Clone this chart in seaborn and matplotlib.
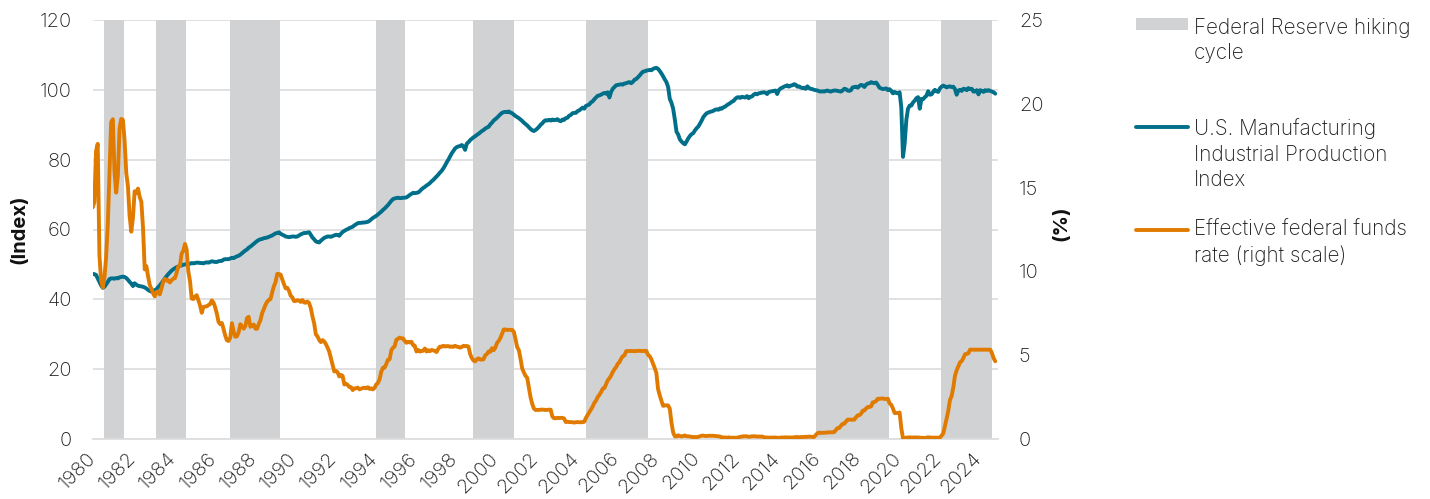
import numpy as np
import pandas as pd
import matplotlib
matplotlib.use("Agg")
import matplotlib.pyplot as plt
from matplotlib.lines import Line2D
from matplotlib.patches import Rectangle
import seaborn as sns

# ---- data (monthly, Jan 1980 - Nov 2024) ----
start_year = 1980

# U.S. manufacturing industrial production index (left scale)
ip_index = [
    47.3, 47.2, 47.0, 46.0, 45.0, 44.0, 43.3, 43.6, 44.3, 45.0, 45.8, 46.0,  # 1980
    46.0, 45.9, 46.1, 46.0, 46.3, 46.4, 46.5, 46.4, 46.1, 45.6, 45.0, 44.5,  # 1981
    43.8, 44.6, 44.2, 43.9, 43.8, 43.7, 43.6, 43.4, 43.1, 42.7, 42.4, 42.2,  # 1982
    42.6, 42.4, 42.9, 43.5, 44.0, 44.6, 45.3, 46.0, 46.6, 47.2, 47.7, 48.2,  # 1983
    48.6, 48.9, 49.2, 49.4, 49.6, 49.7, 49.9, 50.0, 50.1, 50.0, 50.2, 50.4,  # 1984
    50.3, 50.4, 50.5, 50.5, 50.4, 50.4, 50.3, 50.5, 50.6, 50.5, 50.7, 50.9,  # 1985
    50.8, 50.7, 50.7, 50.9, 51.0, 51.0, 51.4, 51.5, 51.5, 51.5, 51.7, 51.9,  # 1986
    51.8, 52.1, 52.3, 52.5, 52.8, 53.2, 53.6, 54.0, 54.3, 54.8, 55.1, 55.5,  # 1987
    55.9, 56.3, 56.7, 57.0, 57.2, 57.3, 57.5, 57.6, 57.7, 57.9, 58.1, 58.3,  # 1988
    58.6, 58.9, 59.0, 59.2, 58.8, 58.5, 58.3, 58.0, 57.9, 57.8, 57.9, 58.0,  # 1989
    58.0, 57.9, 58.0, 58.3, 58.6, 58.8, 59.0, 59.0, 59.1, 59.2, 58.5, 57.7,  # 1990
    57.2, 56.6, 56.4, 56.3, 56.8, 57.2, 57.6, 57.8, 58.0, 58.0, 57.9, 58.1,  # 1991
    58.3, 58.5, 58.4, 58.2, 58.8, 59.3, 59.6, 59.9, 60.1, 60.4, 60.6, 60.8,  # 1992
    61.2, 61.5, 61.8, 61.9, 61.9, 62.0, 62.0, 62.1, 62.2, 62.5, 62.9, 63.3,  # 1993
    63.6, 63.9, 64.3, 64.7, 65.1, 65.6, 66.0, 66.5, 67.0, 67.6, 68.2, 68.7,  # 1994
    68.9, 69.0, 69.1, 69.0, 69.0, 69.1, 69.1, 69.2, 69.5, 69.9, 70.2, 70.5,  # 1995
    70.4, 70.5, 70.6, 71.0, 71.5, 71.9, 72.2, 72.6, 72.9, 73.3, 73.8, 74.2,  # 1996
    74.7, 75.2, 75.7, 76.3, 76.8, 77.5, 78.3, 79.2, 80.0, 80.9, 81.8, 82.5,  # 1997
    83.2, 83.6, 83.8, 83.9, 84.2, 83.8, 82.8, 84.6, 85.0, 85.6, 86.0, 86.4,  # 1998
    86.7, 87.1, 87.4, 87.8, 88.2, 88.5, 88.9, 89.2, 89.4, 90.1, 90.6, 91.2,  # 1999
    91.6, 92.0, 92.5, 93.0, 93.4, 93.6, 93.7, 93.6, 93.8, 93.5, 93.3, 92.9,  # 2000
    92.5, 92.2, 91.9, 91.5, 91.1, 90.6, 90.2, 89.8, 89.3, 88.8, 88.4, 88.2,  # 2001
    88.5, 88.9, 89.4, 90.0, 90.4, 91.0, 91.3, 91.2, 91.4, 91.2, 91.5, 91.3,  # 2002
    91.4, 91.6, 91.2, 91.0, 91.5, 91.4, 91.9, 92.0, 92.6, 92.8, 93.3, 93.4,  # 2003
    93.4, 93.9, 94.1, 94.5, 94.9, 94.6, 95.4, 95.6, 95.8, 96.4, 96.7, 97.3,  # 2004
    97.8, 98.3, 98.4, 98.6, 98.9, 99.1, 98.9, 99.3, 97.8, 99.4, 100.3, 100.8,  # 2005
    101.3, 101.4, 101.5, 101.6, 101.5, 101.8, 101.9, 102.1, 102.2, 101.9, 102.3, 102.9,  # 2006
    103.1, 103.6, 104.1, 104.7, 105.2, 105.3, 105.5, 105.6, 105.7, 105.6, 106.0, 106.2,  # 2007
    106.3, 106.0, 105.4, 104.7, 103.9, 103.0, 102.2, 100.8, 97.4, 96.3, 94.6, 91.5,  # 2008
    88.0, 87.2, 85.8, 85.2, 84.7, 84.4, 85.2, 86.1, 86.8, 87.3, 87.6, 88.4,  # 2009
    89.0, 89.5, 90.3, 91.2, 92.2, 92.8, 93.3, 93.5, 93.7, 93.8, 94.0, 94.3,  # 2010
    94.4, 94.3, 94.7, 94.6, 95.0, 95.2, 95.6, 95.9, 96.2, 96.6, 96.8, 97.4,  # 2011
    97.8, 97.9, 97.7, 98.0, 97.9, 97.8, 98.2, 97.6, 98.0, 98.1, 98.6, 98.9,  # 2012
    98.7, 99.0, 99.1, 99.2, 99.3, 99.2, 98.8, 99.4, 99.5, 99.6, 99.7, 99.8,  # 2013
    98.8, 99.9, 100.4, 100.6, 100.9, 101.1, 101.3, 100.9, 101.2, 101.3, 101.6, 101.5,  # 2014
    100.9, 101.0, 100.7, 100.5, 100.6, 100.3, 101.0, 100.5, 100.3, 100.2, 100.0, 99.9,  # 2015
    99.8, 99.6, 99.5, 99.6, 99.5, 99.7, 99.8, 99.6, 99.5, 99.7, 99.8, 99.8,  # 2016
    99.7, 99.6, 99.5, 99.8, 100.3, 100.2, 99.8, 99.7, 99.9, 100.7, 100.8, 100.9,  # 2017
    100.6, 101.1, 101.4, 101.3, 100.8, 101.5, 101.8, 101.9, 102.2, 102.0, 101.9, 102.1,  # 2018
    101.4, 100.6, 100.4, 100.2, 100.3, 100.4, 99.9, 100.2, 99.7, 99.0, 99.4, 99.1,  # 2019
    99.0, 99.3, 95.0, 80.8, 84.6, 91.4, 94.6, 95.5, 95.5, 96.4, 96.9, 97.6,  # 2020
    97.9, 94.6, 97.4, 97.3, 97.9, 98.3, 99.6, 98.6, 98.7, 99.4, 100.0, 99.6,  # 2021
    99.4, 100.4, 100.9, 101.2, 101.0, 100.7, 100.9, 101.0, 100.8, 100.9, 100.2, 98.6,  # 2022
    99.8, 100.0, 99.7, 100.3, 100.2, 99.9, 100.5, 100.2, 100.3, 99.5, 99.5, 99.9,  # 2023
    98.7, 99.9, 99.7, 99.4, 99.9, 99.7, 99.9, 99.7, 99.5, 99.3, 98.9,  # 2024
]

# Effective federal funds rate, % (right scale)
fed_funds = [
    13.82, 14.13, 17.19, 17.61, 10.98, 9.47, 9.03, 9.61, 10.87, 12.81, 15.85, 18.90,  # 1980
    19.08, 15.93, 14.70, 15.72, 18.52, 19.10, 19.04, 17.82, 15.87, 15.08, 13.31, 12.37,  # 1981
    13.22, 14.78, 14.68, 14.94, 14.45, 14.15, 12.59, 10.12, 10.31, 9.71, 9.20, 8.95,  # 1982
    8.68, 8.51, 8.77, 8.80, 8.63, 8.98, 9.37, 9.56, 9.45, 9.48, 9.34, 9.47,  # 1983
    9.56, 9.59, 9.91, 10.29, 10.32, 11.06, 11.23, 11.64, 11.30, 9.99, 9.43, 8.38,  # 1984
    8.35, 8.50, 8.58, 8.27, 7.97, 7.53, 7.88, 7.90, 7.92, 7.99, 8.05, 8.27,  # 1985
    8.14, 7.86, 7.48, 6.99, 6.85, 6.92, 6.56, 6.17, 5.89, 5.85, 6.04, 6.91,  # 1986
    6.43, 6.10, 6.13, 6.37, 6.85, 6.73, 6.58, 6.73, 7.22, 7.29, 6.69, 6.77,  # 1987
    6.83, 6.58, 6.58, 6.87, 7.09, 7.51, 7.75, 8.01, 8.19, 8.30, 8.35, 8.76,  # 1988
    9.12, 9.36, 9.85, 9.84, 9.81, 9.53, 9.24, 8.99, 9.02, 8.84, 8.55, 8.45,  # 1989
    8.23, 8.24, 8.28, 8.26, 8.18, 8.29, 8.15, 8.13, 8.20, 8.11, 7.81, 7.31,  # 1990
    6.91, 6.25, 6.12, 5.91, 5.78, 5.90, 5.82, 5.66, 5.45, 5.21, 4.81, 4.43,  # 1991
    4.03, 4.06, 3.98, 3.73, 3.82, 3.76, 3.25, 3.30, 3.22, 3.10, 3.09, 2.92,  # 1992
    3.02, 3.03, 3.07, 2.96, 3.00, 3.04, 3.06, 3.03, 3.09, 2.99, 3.02, 2.96,  # 1993
    3.05, 3.25, 3.34, 3.56, 4.01, 4.25, 4.26, 4.47, 4.73, 4.76, 5.29, 5.45,  # 1994
    5.53, 5.92, 5.98, 6.05, 6.01, 6.00, 5.85, 5.74, 5.80, 5.76, 5.80, 5.60,  # 1995
    5.56, 5.22, 5.31, 5.22, 5.24, 5.27, 5.40, 5.22, 5.30, 5.24, 5.31, 5.29,  # 1996
    5.25, 5.19, 5.39, 5.51, 5.50, 5.56, 5.52, 5.54, 5.54, 5.50, 5.52, 5.50,  # 1997
    5.56, 5.51, 5.49, 5.45, 5.49, 5.56, 5.54, 5.55, 5.51, 5.07, 4.83, 4.68,  # 1998
    4.63, 4.76, 4.81, 4.74, 4.74, 4.76, 4.99, 5.07, 5.22, 5.20, 5.42, 5.30,  # 1999
    5.45, 5.73, 5.85, 6.02, 6.27, 6.53, 6.54, 6.50, 6.52, 6.51, 6.51, 6.40,  # 2000
    5.98, 5.49, 5.31, 4.80, 4.21, 3.97, 3.77, 3.65, 3.07, 2.49, 2.09, 1.82,  # 2001
    1.73, 1.74, 1.73, 1.75, 1.75, 1.75, 1.73, 1.74, 1.75, 1.75, 1.34, 1.24,  # 2002
    1.24, 1.26, 1.25, 1.26, 1.26, 1.22, 1.01, 1.03, 1.01, 1.01, 1.00, 0.98,  # 2003
    1.00, 1.01, 1.00, 1.00, 1.00, 1.03, 1.26, 1.43, 1.61, 1.76, 1.93, 2.16,  # 2004
    2.28, 2.50, 2.63, 2.79, 3.00, 3.04, 3.26, 3.50, 3.62, 3.78, 4.00, 4.16,  # 2005
    4.29, 4.49, 4.59, 4.79, 4.94, 4.99, 5.24, 5.25, 5.25, 5.25, 5.25, 5.24,  # 2006
    5.25, 5.26, 5.26, 5.25, 5.25, 5.25, 5.26, 5.02, 4.94, 4.76, 4.49, 4.24,  # 2007
    3.94, 2.98, 2.61, 2.28, 1.98, 2.00, 2.01, 2.00, 1.81, 0.97, 0.39, 0.16,  # 2008
    0.15, 0.22, 0.18, 0.15, 0.18, 0.21, 0.16, 0.16, 0.15, 0.12, 0.12, 0.12,  # 2009
    0.11, 0.13, 0.16, 0.20, 0.20, 0.18, 0.18, 0.19, 0.19, 0.19, 0.19, 0.18,  # 2010
    0.17, 0.16, 0.14, 0.10, 0.09, 0.09, 0.07, 0.10, 0.08, 0.07, 0.08, 0.07,  # 2011
    0.08, 0.10, 0.13, 0.14, 0.16, 0.16, 0.16, 0.13, 0.14, 0.16, 0.16, 0.16,  # 2012
    0.14, 0.15, 0.14, 0.15, 0.11, 0.09, 0.09, 0.08, 0.08, 0.09, 0.08, 0.09,  # 2013
    0.07, 0.07, 0.08, 0.09, 0.09, 0.10, 0.09, 0.09, 0.09, 0.09, 0.09, 0.12,  # 2014
    0.11, 0.11, 0.11, 0.12, 0.12, 0.13, 0.13, 0.14, 0.14, 0.12, 0.12, 0.24,  # 2015
    0.34, 0.38, 0.36, 0.37, 0.37, 0.38, 0.39, 0.40, 0.40, 0.40, 0.41, 0.54,  # 2016
    0.65, 0.66, 0.79, 0.90, 0.91, 1.04, 1.15, 1.16, 1.15, 1.15, 1.16, 1.30,  # 2017
    1.41, 1.42, 1.51, 1.69, 1.70, 1.82, 1.91, 1.91, 1.95, 2.19, 2.20, 2.27,  # 2018
    2.40, 2.40, 2.41, 2.42, 2.39, 2.38, 2.40, 2.13, 2.04, 1.83, 1.55, 1.55,  # 2019
    1.55, 1.58, 0.65, 0.05, 0.05, 0.08, 0.09, 0.10, 0.09, 0.09, 0.09, 0.09,  # 2020
    0.09, 0.08, 0.07, 0.07, 0.06, 0.08, 0.10, 0.09, 0.08, 0.08, 0.08, 0.08,  # 2021
    0.08, 0.08, 0.20, 0.33, 0.77, 1.21, 1.68, 2.33, 2.56, 3.08, 3.78, 4.10,  # 2022
    4.33, 4.57, 4.65, 4.83, 5.06, 5.08, 5.12, 5.33, 5.33, 5.33, 5.33, 5.33,  # 2023
    5.33, 5.33, 5.33, 5.33, 5.33, 5.33, 5.33, 5.33, 5.13, 4.83, 4.64,  # 2024
]

# Federal Reserve hiking cycles (decimal years)
hike_start = [1980.58, 1983.16, 1986.82, 1994.07, 1998.90, 2004.51, 2015.92, 2022.16]
hike_end = [1981.57, 1984.65, 1989.32, 1995.50, 2000.91, 2007.56, 2019.55, 2024.66]

year_ticks = list(range(1980, 2025, 2))
index_ticks = [0, 20, 40, 60, 80, 100, 120]
rate_ticks = [0, 5, 10, 15, 20, 25]

legend_labels = [
    "Federal Reserve hiking\ncycle",
    "U.S. Manufacturing\nIndustrial Production\nIndex",
    "Effective federal funds\nrate (right scale)",
]

# ---- styling ----
TEAL = "#006f8a"
ORANGE = "#e17b00"
BAND = "#d1d2d4"
GRID = "#dedede"
TEXT = "#1e1e1e"
FS = 14.5
FS_LEGEND = 14.9

sns.set_theme(style="white")
plt.rcParams["font.family"] = ["Inter", "DejaVu Sans"]
plt.rcParams["font.weight"] = "light"
plt.rcParams["text.color"] = TEXT

df = pd.DataFrame({
    "year": start_year + np.arange(len(ip_index)) / 12.0,
    "ip": ip_index,
    "ffr": fed_funds,
})

W, H = 1430, 499
fig = plt.figure(figsize=(W / 100, H / 100), dpi=100)
ax = fig.add_axes([92.7 / W, 1 - 439 / H, 905.3 / W, 419 / H])
ax2 = ax.twinx()

# hiking-cycle shading
for s, e in zip(hike_start, hike_end):
    ax.axvspan(s, e, color=BAND, lw=0, zorder=1)

sns.lineplot(data=df, x="year", y="ip", ax=ax, color=TEAL, lw=2.8,
             estimator=None, zorder=3)
sns.lineplot(data=df, x="year", y="ffr", ax=ax2, color=ORANGE, lw=2.8,
             estimator=None, zorder=3)

ax.set_xlim(1980, 2024.97)
ax.set_ylim(0, 120)
ax2.set_ylim(0, 25)

ax.set_yticks(index_ticks)
ax2.set_yticks(rate_ticks)
ax.set_xticks(year_ticks)
ax.set_xticklabels([str(y) for y in year_ticks], rotation=45, ha="right",
                   va="center", rotation_mode="anchor")

ax.grid(axis="y", color=GRID, lw=1.3)
ax.grid(axis="x", visible=False)
ax2.grid(False)
ax.set_axisbelow(True)

for a in (ax, ax2):
    for side in ("left", "right", "top", "bottom"):
        a.spines[side].set_visible(False)
ax.spines["bottom"].set_visible(True)
ax.spines["bottom"].set_color(GRID)
ax.spines["bottom"].set_linewidth(1.3)

ax.tick_params(axis="y", length=0, pad=15, labelsize=FS, labelcolor=TEXT)
ax2.tick_params(axis="y", length=0, pad=15, labelsize=FS, labelcolor=TEXT)
ax.tick_params(axis="x", length=6, width=1.2, color=GRID, pad=6,
               labelsize=FS, labelcolor=TEXT)

ax.set_xlabel("")
ax.set_ylabel("(Index)", fontsize=FS, fontweight="bold", color="#111111")
ax2.set_ylabel("(%)", fontsize=FS, fontweight="bold", color="#111111")
ax.yaxis.set_label_coords(-0.081, 0.5)
ax2.yaxis.set_label_coords(1.0704, 0.515)
for lab in (ax.yaxis.label, ax2.yaxis.label):
    lab.set_rotation(90)
    lab.set_rotation_mode("default")
    lab.set_va("center")
    lab.set_ha("center")

# ---- legend at the right ----
def fy(py):
    return 1 - py / H

hx0, hx1, tx = 1136 / W, 1188 / W, 1194 / W
fig.add_artist(Rectangle((hx0, fy(29.5)), hx1 - hx0, 11.2 / H,
                         transform=fig.transFigure, color=BAND, lw=0))
fig.add_artist(Line2D([hx0, hx1], [fy(126.5)] * 2, transform=fig.transFigure,
                      color=TEAL, lw=2.8, solid_capstyle="round"))
fig.add_artist(Line2D([hx0, hx1], [fy(229.5)] * 2, transform=fig.transFigure,
                      color=ORANGE, lw=2.8, solid_capstyle="round"))

first_baselines = [33.5, 135.0, 236.0]
line_step = 25.5
for label, b0 in zip(legend_labels, first_baselines):
    for k, line in enumerate(label.split("\n")):
        fig.text(tx, fy(b0 + k * line_step), line, ha="left", va="baseline",
                 fontsize=FS_LEGEND, color=TEXT)

fig.savefig("out.png", dpi=100, facecolor="white")
